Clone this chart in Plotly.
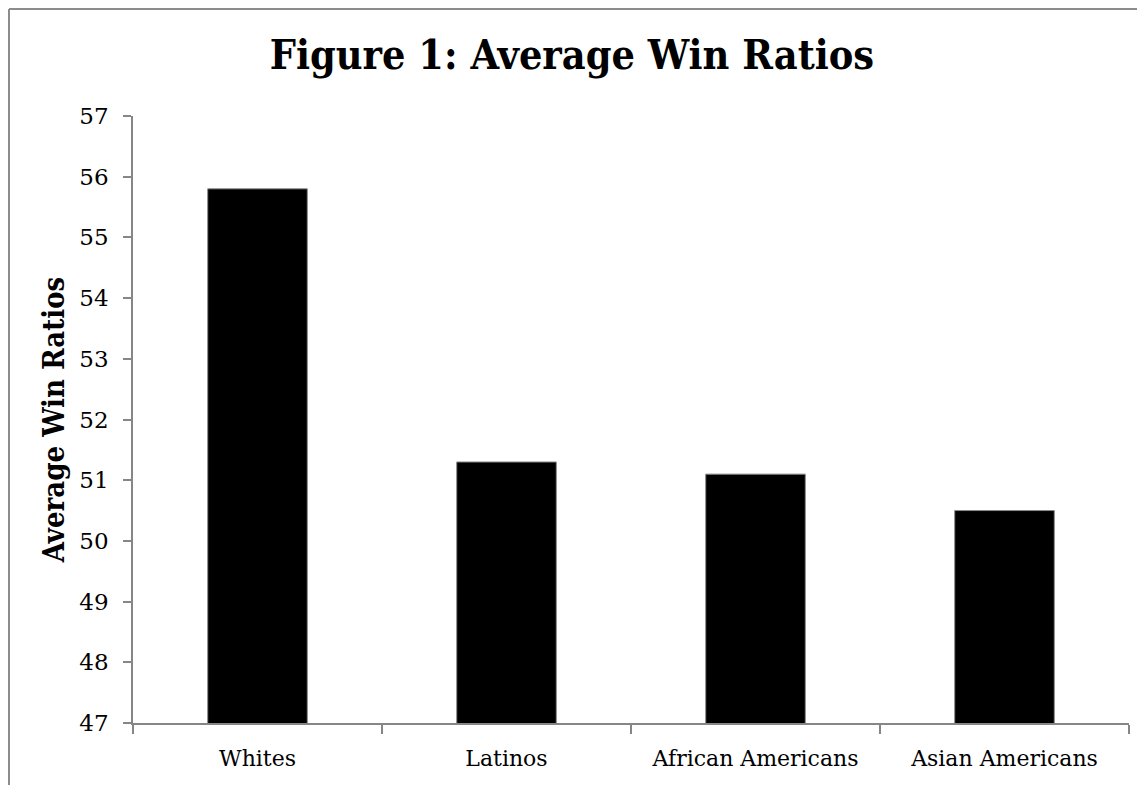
import plotly.graph_objects as go

categories = ["Whites", "Latinos", "African Americans", "Asian Americans"]
win_ratios = [55.8, 51.3, 51.1, 50.5]
y_ticks = [47, 48, 49, 50, 51, 52, 53, 54, 55, 56, 57]

fig = go.Figure()
fig.add_trace(go.Bar(
    x=categories, y=win_ratios, base=0,
    marker=dict(color="black", line=dict(color="#8a8a8a", width=1)),
    width=0.4,
))

axis_gray = "#868686"
cond = "DejaVu Serif Condensed, Liberation Serif, serif"
fig.update_layout(
    width=1137, height=777,
    margin=dict(l=125, r=16, t=108, b=62),
    paper_bgcolor="white", plot_bgcolor="white",
    showlegend=False,
    title=dict(text="<b>Figure 1: Average Win Ratios</b>", x=0.496, xanchor="center",
               xref="container",
               y=0.9395, yanchor="middle",
               font=dict(family=cond, size=41, color="black")),
    font=dict(family="DejaVu Serif, serif", size=23, color="black"),
    xaxis=dict(type="category", showline=True, linecolor=axis_gray, linewidth=1.5,
               ticks="outside", tickson="boundaries", ticklen=9, tickcolor=axis_gray, tickwidth=1.5,
               ticklabelstandoff=15,
               showgrid=False, zeroline=False, tickfont=dict(size=22)),
    yaxis=dict(range=[47, 57], tickvals=y_ticks, showline=True, linecolor=axis_gray, linewidth=1.5,
               ticks="outside", ticklen=8, tickcolor=axis_gray, tickwidth=1.5,
               ticklabelstandoff=10,
               showgrid=False, zeroline=False, tickfont=dict(size=23),
               title=dict(text="<b>Average Win Ratios</b>", standoff=6,
                          font=dict(family=cond, size=29))),
    shapes=[
        dict(type="line", xref="paper", yref="paper", x0=-0.1245, x1=-0.1245, y0=1.1763, y1=-0.2,
             line=dict(color="#8c8c8c", width=2)),
        dict(type="line", xref="paper", yref="paper", x0=-0.1245, x1=1.1, y0=1.1763, y1=1.1763,
             line=dict(color="#8c8c8c", width=2)),
    ],
)

fig.write_html("out.html")
